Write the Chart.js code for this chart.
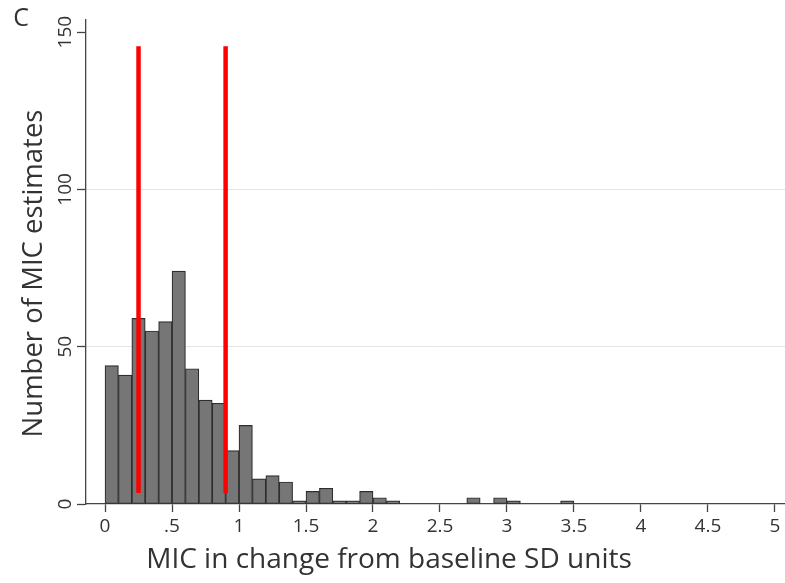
<!DOCTYPE html>
<html>
<head>
<meta charset="utf-8">
<script src="https://cdn.jsdelivr.net/npm/chart.js@4.4.0/dist/chart.umd.min.js"></script>
<style>
html, body { margin: 0; padding: 0; background: #fff; }
</style>
</head>
<body>
<canvas id="chart" width="785" height="583"></canvas>
<script>
// histogram bins (left edge, width 0.1) and counts
let binStarts = [0, 0.1, 0.2, 0.3, 0.4, 0.5, 0.6, 0.7, 0.8, 0.9,
                 1.0, 1.1, 1.2, 1.3, 1.4, 1.5, 1.6, 1.7, 1.8, 1.9,
                 2.0, 2.1, 2.2, 2.3, 2.4, 2.5, 2.6, 2.7, 2.8, 2.9,
                 3.0, 3.1, 3.2, 3.3, 3.4];
let counts = [44, 41, 59, 55, 58, 74, 43, 33, 32, 17,
              25, 8, 9, 7, 1, 4, 5, 1, 1, 4,
              2, 1, 0, 0, 0, 0, 0, 2, 0, 2,
              1, 0, 0, 0, 1];
let binWidth = 0.1;

// red reference lines
let cutoffs = [0.25, 0.9];
let cutoffSpan = [3.5, 145.5];

let xTicks = [0, 0.5, 1, 1.5, 2, 2.5, 3, 3.5, 4, 4.5, 5];
let yTicks = [0, 50, 100, 150];

let xTitle = 'MIC in change from baseline SD units';
let yTitle = 'Number of MIC estimates';
let panelLabel = 'C';

let chart;

function fmtX(v) {
    if (v === 0) return '0';
    if (v < 1) return String(v).slice(1);
    return String(v);
}

let barData = [];
binStarts.forEach((b, i) => {
    if (counts[i] > 0) {
        barData.push({ x: b + binWidth / 2, y: counts[i] });
    }
});

let lineSets = cutoffs.map(c => ({
    type: 'line',
    data: [{ x: c, y: cutoffSpan[0] }, { x: c, y: cutoffSpan[1] }],
    borderColor: '#ff0000',
    borderWidth: 4.5,
    borderCapStyle: 'butt',
    pointRadius: 0,
    order: 1
}));

// texts drawn by hand: panel letter, rotated y tick labels, axis titles
const textPlugin = {
    id: 'texts',
    afterDraw(c) {
        const g = c.ctx;
        const yScale = c.scales.y;
        g.save();
        g.fillStyle = '#333';

        g.font = '25px "Open Sans"';
        g.textAlign = 'center';
        g.textBaseline = 'middle';
        g.fillText(panelLabel, 21, 19);

        g.font = '19px "Open Sans"';
        g.textBaseline = 'alphabetic';
        yTicks.forEach(v => {
            g.save();
            g.translate(71, yScale.getPixelForValue(v));
            g.rotate(-Math.PI / 2);
            g.fillText(String(v), 0, 0);
            g.restore();
        });

        g.font = '27.5px "Open Sans"';
        g.save();
        g.translate(42, 273.5);
        g.rotate(-Math.PI / 2);
        g.fillText(yTitle, 0, 0);
        g.restore();

        g.font = '28px "Open Sans"';
        g.fillText(xTitle, 389, 568);
        g.restore();
    }
};

chart = new Chart(document.getElementById('chart').getContext('2d'), {
    type: 'bar',
    data: {
        datasets: [{
            type: 'bar',
            data: barData,
            backgroundColor: '#767676',
            borderColor: '#2e2e2e',
            borderWidth: 1.2,
            borderSkipped: false,
            barPercentage: 1,
            categoryPercentage: 1,
            order: 2
        }].concat(lineSets)
    },
    options: {
        responsive: false,
        animation: false,
        layout: { padding: { top: 20, left: 0, right: 0, bottom: 0 } },
        plugins: {
            legend: { display: false },
            tooltip: { enabled: false }
        },
        scales: {
            x: {
                type: 'linear',
                min: -0.142,
                max: 5.075,
                offset: false,
                afterBuildTicks: s => { s.ticks = xTicks.map(v => ({ value: v })); },
                afterFit: s => { s.height = 79; },
                ticks: {
                    callback: v => fmtX(v),
                    font: { family: 'Open Sans', size: 19 },
                    color: '#333',
                    padding: 3,
                    maxRotation: 0,
                    autoSkip: false
                },
                grid: {
                    drawOnChartArea: false,
                    offset: false,
                    tickLength: 8,
                    tickColor: '#444',
                    tickWidth: 1.3
                },
                border: { color: '#444', width: 1.3 }
            },
            y: {
                min: 0,
                max: 153.85,
                afterBuildTicks: s => { s.ticks = yTicks.map(v => ({ value: v })); },
                afterFit: s => { s.width = 86; },
                ticks: { display: false },
                grid: {
                    color: c => (c.tick && (c.tick.value === 50 || c.tick.value === 100)) ? '#e4e4e4' : 'rgba(0,0,0,0)',
                    tickLength: 9,
                    tickColor: '#444',
                    tickWidth: 1.3
                },
                border: { color: '#444', width: 1.3 }
            }
        }
    },
    plugins: [textPlugin]
});
</script>
</body>
</html>
